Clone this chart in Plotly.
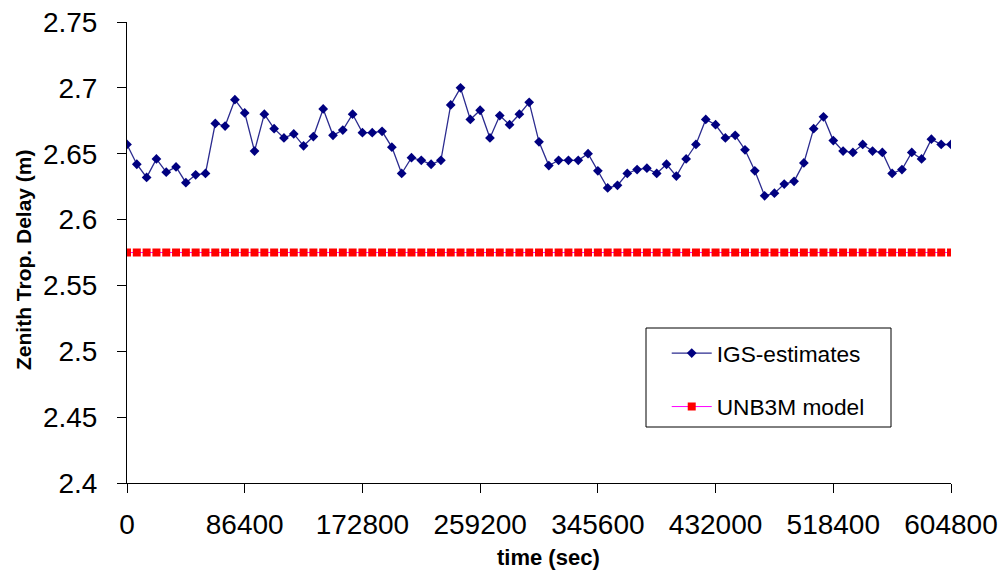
import plotly.graph_objects as go

# Sampling epochs: every 2 hours over one week (seconds)
step_sec = 7200
n_epochs = 85
time_sec = [i * step_sec for i in range(n_epochs)]

# IGS zenith tropospheric delay estimates (m)
igs_ztd = [
    2.657, 2.642, 2.632, 2.646, 2.636, 2.640, 2.628, 2.634, 2.635, 2.673,
    2.671, 2.691, 2.681, 2.652, 2.680, 2.669, 2.662, 2.665, 2.656, 2.663,
    2.684, 2.664, 2.668, 2.680, 2.666, 2.666, 2.667, 2.655, 2.635, 2.647,
    2.645, 2.642, 2.645, 2.687, 2.700, 2.676, 2.683, 2.662, 2.679, 2.672,
    2.680, 2.689, 2.659, 2.641, 2.645, 2.645, 2.645, 2.650, 2.637, 2.624,
    2.626, 2.635, 2.638, 2.639, 2.635, 2.642, 2.633, 2.646, 2.657, 2.676,
    2.672, 2.662, 2.664, 2.653, 2.637, 2.618, 2.620, 2.627, 2.629, 2.643,
    2.669, 2.678, 2.660, 2.652, 2.651, 2.657, 2.652, 2.651, 2.635, 2.638,
    2.651, 2.646, 2.661, 2.657, 2.657,
]

# UNB3M model prediction (m), constant over the week
unb3m_value = 2.575
unb3m_ztd = [unb3m_value] * n_epochs

x_ticks = [0, 86400, 172800, 259200, 345600, 432000, 518400, 604800]
y_ticks = [2.4, 2.45, 2.5, 2.55, 2.6, 2.65, 2.7, 2.75]
y_tick_text = ["2.4", "2.45", "2.5", "2.55", "2.6", "2.65", "2.7", "2.75"]

FONT = "Arial, 'Liberation Sans', sans-serif"

# plot area in pixels
L, R, T, B = 127, 57, 22, 94
W, H = 1008, 577
PW, PH = W - L - R, H - T - B

fig = go.Figure()

fig.add_trace(go.Scatter(
    x=time_sec, y=unb3m_ztd, name="UNB3M model", mode="lines+markers",
    line=dict(color="#FF00FF", width=1),
    marker=dict(symbol="square", size=8, color="#FF0000"),
    legendgroup="b", legendrank=2,
))

fig.add_trace(go.Scatter(
    x=time_sec, y=igs_ztd, name="IGS-estimates", mode="lines+markers",
    line=dict(color="#2B2B8F", width=1.3),
    marker=dict(symbol="diamond", size=7.5, color="#000080"),
    legendgroup="a", legendrank=1,
))

fig.update_layout(
    width=W, height=H,
    margin=dict(l=L, r=R, t=T, b=B, autoexpand=False),
    paper_bgcolor="white", plot_bgcolor="white",
    font=dict(family=FONT, color="black"),
    showlegend=True,
    legend=dict(
        x=0.655, y=0.328, xanchor="left", yanchor="top",
        traceorder="grouped", tracegroupgap=21,
        font=dict(size=22.7, family=FONT, color="black"),
        bgcolor="rgba(0,0,0,0)", borderwidth=0, itemwidth=40,
    ),
    shapes=[dict(
        type="rect", xref="paper", yref="paper",
        x0=(646 - L) / PW, x1=(891 - L) / PW,
        y0=(H - B - 427) / PH, y1=(H - B - 328) / PH,
        line=dict(color="black", width=1), fillcolor="rgba(0,0,0,0)",
    )],
    annotations=[
        dict(text="<b>time (sec)</b>", xref="paper", yref="paper",
             x=(548 - L) / PW, y=(H - B - 557) / PH,
             xanchor="center", yanchor="middle", showarrow=False,
             font=dict(size=22, family=FONT, color="black")),
        dict(text="<b>Zenith Trop. Delay (m)</b>", xref="paper", yref="paper",
             x=(23 - L) / PW, y=(H - B - 260) / PH, textangle=-90,
             xanchor="center", yanchor="middle", showarrow=False,
             font=dict(size=21, family=FONT, color="black")),
    ],
)

fig.update_xaxes(
    range=[0, 604800], tickvals=x_ticks, ticktext=[str(v) for v in x_ticks],
    showgrid=False, zeroline=False, showline=True, linecolor="black", linewidth=1,
    ticks="outside", ticklen=9, tickcolor="black", tickfont=dict(size=28),
    ticklabelstandoff=7,
)

fig.update_yaxes(
    range=[2.4, 2.75], tickvals=y_ticks, ticktext=y_tick_text,
    showgrid=False, zeroline=False, showline=True, linecolor="black", linewidth=1,
    ticks="outside", ticklen=9, tickcolor="black", tickfont=dict(size=28),
    ticklabelstandoff=14,
)

fig.write_html("out.html")
